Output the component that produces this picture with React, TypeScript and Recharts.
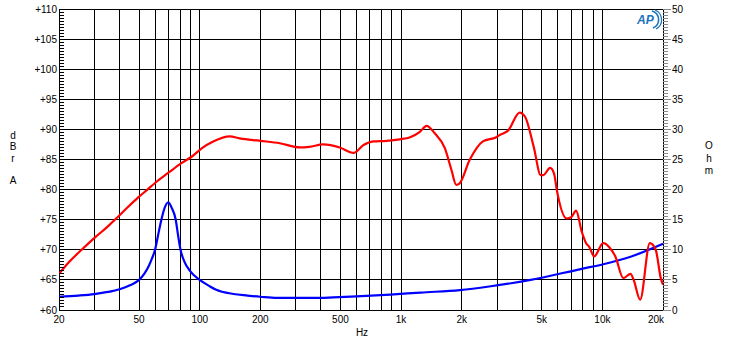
import React from "react"
import { LineChart, Line, XAxis, YAxis, ReferenceLine } from "recharts"

// SPL response (red, left axis dBrA)
const SPL_FREQ = [
  20, 22.5, 25.9, 30.3, 35, 39.3, 44, 49.5, 55, 60, 70, 81, 91.5, 102.6, 116.7, 141, 158, 200, 250,
  314, 350, 410, 496, 580, 651, 728, 848, 986, 1110, 1240, 1340, 1470, 1650, 1780, 1880, 1950, 2190,
  2550, 2970, 3100, 3400, 3880, 4130, 4560, 4940, 5090, 5500, 5750, 5940, 6650, 7000, 7400, 7900,
  8300, 8600, 9100, 10100, 10900, 11600, 12700, 13800, 14300, 15400, 17200, 18400, 19500, 20000,
]
const SPL_DB = [
  66.0, 68.0, 70.0, 72.1, 73.9, 75.5, 77.1, 78.7, 80.0, 81.1, 82.8, 84.4, 85.5, 86.9, 88.0, 88.85, 88.5,
  88.1, 87.7, 87.0, 87.1, 87.5, 87.0, 86.1, 87.4, 88.0, 88.1, 88.35, 88.7, 89.6, 90.6, 89.35, 86.9,
  83.25, 80.8, 81.0, 84.9, 88.0, 88.7, 89.1, 89.8, 92.8, 92.1, 87.1, 82.4, 82.4, 83.6, 82.7, 79.9,
  75.2, 75.4, 76.5, 73.0, 71.1, 70.5, 68.9, 71.1, 70.3, 68.9, 65.3, 66.0, 65.0, 61.7, 71.1, 70.0,
  65.3, 64.2,
]

// Impedance (blue, right axis Ohm)
const IMP_FREQ = [
  20, 25, 30, 35, 40, 45, 50, 53, 56, 58, 60, 62, 64.5, 67, 69.8, 72.5, 76, 78, 80.3, 84, 89, 100, 112,
  120, 147, 173, 200, 242, 300, 400, 460, 600, 885, 1250, 1960, 2740, 4400, 7800, 10100, 13800, 20000,
]
const IMP_OHM = [
  2.2, 2.4, 2.65, 3.0, 3.45, 4.1, 5.0, 6.0, 7.4, 8.6, 10.0, 12.3, 15.0, 17.0, 17.9, 17.0, 15.0, 12.5,
  10.0, 8.0, 6.6, 5.0, 3.95, 3.4, 2.66, 2.4, 2.2, 2.0, 2.0, 2.0, 2.1, 2.25, 2.55, 2.9, 3.3, 3.9, 5.0,
  6.8, 7.6, 8.85, 11.0,
]

const FREQ_GRID = [
  20, 30, 40, 50, 60, 70, 80, 90, 100, 200, 300, 400, 500, 600, 700, 800, 900, 1000, 2000, 3000, 4000,
  5000, 6000, 7000, 8000, 9000, 10000, 20000,
]
const FREQ_LABELS: Record<number, string> = {
  20: "20", 50: "50", 100: "100", 200: "200", 500: "500", 1000: "1k", 2000: "2k", 5000: "5k", 10000: "10k", 20000: "20k",
}
const DB_MAJOR = [60, 65, 70, 75, 80, 85, 90, 95, 100, 105, 110]

const splData = SPL_FREQ.map((f, i) => ({ f, db: SPL_DB[i] }))
const impData = IMP_FREQ.map((f, i) => ({ f, ohm: IMP_OHM[i] }))

const steps = (lo: number, hi: number, step: number) => {
  const out: number[] = []
  for (let v = lo; v <= hi + 1e-9; v += step) out.push(Math.round(v * 10) / 10)
  return out
}
const DB_TICKS = steps(60, 110, 0.5)
const OHM_TICKS = steps(0, 50, 0.5)

const FONT = "'Liberation Sans', Arial, sans-serif"
const isMajor = (v: number) => Math.abs(v / 5 - Math.round(v / 5)) < 1e-6

const LeftTick = ({ x, y, payload }: any) => {
  const v = payload.value
  if (!isMajor(v)) {
    return <line x1={x} x2={x + 5} y1={y} y2={y} stroke="#000" shapeRendering="crispEdges" />
  }
  return (
    <text x={x - 2} y={y} dy={3.5} textAnchor="end" fontSize={10} fontFamily={FONT} fill="#000">
      {`+${v}`}
    </text>
  )
}

const RightTick = ({ x, y, payload }: any) => {
  const v = payload.value
  const major = isMajor(v)
  return (
    <g>
      <line x1={x} x2={x + (major ? 8 : 5)} y1={y} y2={y} stroke="#888" shapeRendering="crispEdges" />
      {major && (
        <text x={x + 9} y={y} dy={3.5} textAnchor="start" fontSize={10} fontFamily={FONT} fill="#000">
          {v}
        </text>
      )}
    </g>
  )
}

const BottomTick = ({ x, y, payload }: any) => {
  const label = FREQ_LABELS[payload.value]
  if (!label) return null
  const last = payload.value === 20000
  return (
    <text x={last ? x + 1 : x} y={y} dy={12.5} textAnchor={last ? "end" : "middle"} fontSize={10} fontFamily={FONT} fill="#000">
      {label}
    </text>
  )
}

const letter = (ch: string, left: number, top: number) => (
  <div
    key={ch + top}
    style={{ position: "absolute", left, top, width: 12, textAlign: "center", fontSize: 10, lineHeight: "10px", fontFamily: FONT }}
  >
    {ch}
  </div>
)

export default function App() {
  return (
    <div style={{ position: "absolute", left: 0, top: 0, width: 730, height: 343, background: "#fff" }}>
      <LineChart width={730} height={343} margin={{ top: 9, right: 0, bottom: 0, left: 0 }}>
        <XAxis
          dataKey="f"
          type="number"
          scale="log"
          domain={[20, 20000]}
          ticks={FREQ_GRID}
          interval={0}
          allowDataOverflow
          height={33}
          tickSize={0}
          tickMargin={0}
          axisLine={false}
          tickLine={false}
          tick={<BottomTick />}
        />
        <YAxis
          yAxisId="left"
          orientation="left"
          type="number"
          domain={[60, 110]}
          ticks={DB_TICKS}
          interval={0}
          allowDataOverflow
          width={59}
          tickSize={0}
          tickMargin={0}
          axisLine={false}
          tickLine={false}
          tick={<LeftTick />}
        />
        <YAxis
          yAxisId="right"
          orientation="right"
          type="number"
          domain={[0, 50]}
          ticks={OHM_TICKS}
          interval={0}
          allowDataOverflow
          width={67}
          tickSize={0}
          tickMargin={0}
          axisLine={false}
          tickLine={false}
          tick={<RightTick />}
        />
        {FREQ_GRID.map((f) => (
          <ReferenceLine key={`v${f}`} x={f} yAxisId="left" stroke="#000" strokeWidth={1} shapeRendering="crispEdges" />
        ))}
        {DB_MAJOR.map((v) => (
          <ReferenceLine key={`h${v}`} y={v} yAxisId="left" stroke="#000" strokeWidth={1} shapeRendering="crispEdges" />
        ))}
        <Line
          data={impData}
          dataKey="ohm"
          yAxisId="right"
          type="monotone"
          stroke="#0000ff"
          strokeWidth={2.2}
          dot={false}
          isAnimationActive={false}
        />
        <Line
          data={splData}
          dataKey="db"
          yAxisId="left"
          type="monotone"
          stroke="#ff0000"
          strokeWidth={2.2}
          dot={false}
          isAnimationActive={false}
        />
      </LineChart>

      {letter("d", 7, 131)}
      {letter("B", 7, 142)}
      {letter("r", 7, 154)}
      {letter("A", 7, 176)}
      {letter("O", 703, 141)}
      {letter("h", 703, 154)}
      {letter("m", 703, 166)}
      <div style={{ position: "absolute", left: 352, top: 328, width: 20, textAlign: "center", fontSize: 10, lineHeight: "10px", fontFamily: FONT }}>
        Hz
      </div>

      <svg style={{ position: "absolute", left: 634, top: 9 }} width={30} height={22}>
        <path d="M18 2 A9 9 0 0 1 19 19" fill="none" stroke="#1b75bb" strokeWidth={1.6} />
        <path d="M21 1 A10.5 10.5 0 0 1 22 20" fill="none" stroke="#1b75bb" strokeWidth={1.2} />
        <text x={3} y={15} fontSize={12} fontWeight="bold" fontStyle="italic" fontFamily={FONT} fill="#1b75bb">
          AP
        </text>
      </svg>
    </div>
  )
}
